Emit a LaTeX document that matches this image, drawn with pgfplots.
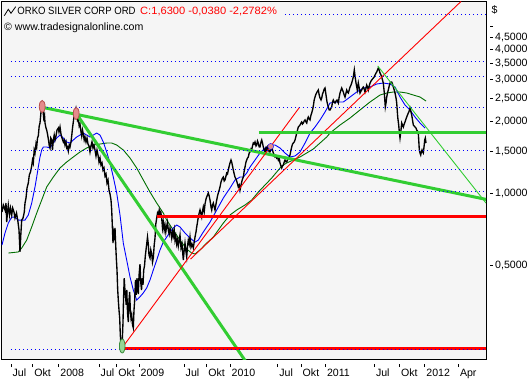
\documentclass[border=0pt]{standalone}
\usepackage{pgfplots}
\pgfplotsset{compat=1.18}
\usepackage{fontspec}
\setmainfont{Liberation Sans}
\definecolor{plotbg}{RGB}{245,245,245}
\definecolor{lgreen}{RGB}{50,205,50}
\definecolor{dgreen}{RGB}{0,110,0}
\definecolor{pinkfill}{RGB}{228,140,140}
\definecolor{pinkdraw}{RGB}{185,80,80}
\definecolor{greenfill}{RGB}{150,215,150}
\definecolor{greendraw}{RGB}{60,140,60}
\pgfdeclareplotmark{vellA}{\pgfpathellipse{\pgfpointorigin}{\pgfqpoint{\pgfplotmarksize}{0pt}}{\pgfqpoint{0pt}{2.1\pgfplotmarksize}}\pgfusepathqfillstroke}
\pgfdeclareplotmark{vellG}{\pgfpathellipse{\pgfpointorigin}{\pgfqpoint{\pgfplotmarksize}{0pt}}{\pgfqpoint{0pt}{2.5\pgfplotmarksize}}\pgfusepathqfillstroke}
\begin{document}
\begin{tikzpicture}[x=1bp,y=1bp,font=\fontsize{10.6bp}{12.7bp}\selectfont]
\path[use as bounding box] (0,0) rectangle (531,380);
\begin{axis}[
  at={(1.5bp,21bp)}, anchor=south west,
  width=484.5bp, height=357.5bp, scale only axis,
  xmin=1.5, xmax=486,
  ymode=log, ymin=0.2038, ymax=6.359,
  axis background/.style={fill=plotbg},
  axis line style={black, line width=1bp},
  xtick={11,32.7,58.7,99,116.7,139,184,206.7,230,277.7,301,325.3,374.3,399.3,424.7,458.3},
  xticklabels={Jul,Okt,2008,Jul,Okt,2009,Jul,Okt,2010,Jul,Okt,2011,Jul,Okt,2012,Apr},
  ytick={0.5,1,1.5,2,2.5,3,3.5,4,4.5,5},
  yticklabels={0{,}5000,1{,}0000,1{,}5000,2{,}0000,2{,}5000,3{,}0000,3{,}5000,4{,}0000,4{,}5000,{}},
  yminorticks=false, xminorticks=false,
  ytick pos=right, xtick pos=bottom,
  tick align=outside,
  major tick length=3bp,
  tick style={black, line width=0.8bp},
  xtick style={yshift=-5bp},
  ytick style={xshift=4bp},
  xticklabel style={anchor=base west, inner sep=0pt, xshift=1.5bp, yshift=-14bp},
  yticklabel style={anchor=west, inner sep=0pt, xshift=6bp},
  clip=true,
]
% markers
\addplot[only marks, mark=vellA, mark size=2.9bp, mark options={fill=pinkfill, draw=pinkdraw, line width=0.8bp}] coordinates {(42.2,2.314) (76.2,2.163)};
\addplot[only marks, mark=*, mark size=3bp, mark options={fill=pinkfill, draw=blue}] coordinates {(270.7,1.576)};
\addplot[only marks, mark=vellG, mark size=2.8bp, mark options={fill=greenfill, draw=greendraw, line width=0.8bp}] coordinates {(122.2,0.231)};
% long moving average
\addplot[dgreen, line width=0.9bp] coordinates {
(8.3,0.565)(18.3,0.571)(21.7,0.593)(26.7,0.640)(31.7,0.726)(36.7,0.830)(41.7,0.941)(46.7,1.067)(53.3,1.174)(60,1.281)
(66.7,1.357)(73.3,1.424)(80,1.494)(86.7,1.553)(93.3,1.598)(100,1.613)(106.7,1.629)(111.7,1.629)(116.7,1.598)(123.3,1.523)
(130,1.410)(136.7,1.281)(143.3,1.141)(150,1.016)(156.7,0.914)(163.3,0.830)(166.7,0.776)(173.3,0.705)(180,0.640)(186.7,0.587)
(191.7,0.565)(195,0.560)(200,0.582)(206.7,0.622)(213.3,0.659)(223.3,0.754)(230,0.815)(236.7,0.855)(245,0.897)(251.7,0.941)
(258.3,1.016)(265,1.087)(271.7,1.163)(276.7,1.232)(281.7,1.306)(286.7,1.344)(293.3,1.383)(300,1.424)(306.7,1.480)(313.3,1.538)
(320,1.629)(326.7,1.726)(330,1.793)(340,1.937)(350,2.072)(360,2.238)(370,2.417)(380,2.585)(386.7,2.636)(393.3,2.661)
(400,2.661)(406.7,2.636)(413.3,2.585)(420,2.536)(426,2.440)};
% short moving average
\addplot[blue, line width=0.9bp] coordinates {
(2,0.610)(5,0.685)(8.3,0.754)(11.7,0.799)(15,0.799)(18.3,0.776)(21.7,0.776)(25,0.776)(28.3,0.815)(31.7,0.914)
(35,1.067)(36.7,1.174)(38.3,1.293)(40,1.424)(41.7,1.523)(43.3,1.568)(46.7,1.568)(50,1.553)(53.3,1.629)(56.7,1.709)
(60,1.759)(63.3,1.709)(66.7,1.645)(70,1.629)(73.3,1.677)(76.7,1.726)(80,1.759)(83.3,1.793)(86.7,1.759)(90,1.726)
(93.3,1.759)(96.7,1.793)(100,1.759)(103.3,1.645)(106.7,1.494)(110,1.344)(113.3,1.174)(116.7,1.007)(120,0.815)(123.3,0.622)
(126.7,0.528)(130,0.449)(133.3,0.396)(136.7,0.3595)(140,0.371)(143.3,0.385)(146.7,0.404)(150,0.436)(153.3,0.480)(156.7,0.528)
(160,0.582)(163.3,0.628)(166.7,0.659)(170,0.692)(173.3,0.719)(176.7,0.740)(180,0.726)(185,0.685)(190,0.653)(195,0.628)
(198.3,0.640)(203.3,0.692)(210,0.761)(216.7,0.855)(223.3,0.959)(230,1.056)(235,1.141)(240,1.174)(243.3,1.174)(246.7,1.220)
(250,1.293)(255,1.383)(260,1.480)(265,1.553)(270,1.598)(275,1.598)(280,1.553)(285,1.480)(290,1.424)(295,1.438)
(300,1.494)(305,1.629)(310,1.793)(315,1.900)(320,2.033)(325,2.195)(330,2.394)(336.7,2.417)(343.3,2.417)(350,2.536)
(356.7,2.661)(363.3,2.766)(370,2.792)(376.7,2.874)(383.3,2.902)(390,2.874)(395,2.792)(400,2.536)(405,2.348)(410,2.238)
(415,2.092)(420,1.975)(425,1.882)};
% close
\addplot[black, line width=1.35bp] coordinates {
(2,0.838)(3.3,0.897)(5,0.855)(6,0.914)(6.7,0.761)(7.5,0.838)(8.3,0.897)(9.5,0.815)(10.5,0.871)(11.7,0.815)
(12.7,0.871)(14,0.838)(15,0.791)(16.5,0.830)(18,0.761)(19,0.705)(20,0.571)(20.8,0.672)(21.7,0.776)(23,0.791)
(24.3,0.838)(25,0.914)(26,0.959)(27,1.056)(28.3,1.108)(29.3,1.197)(30.5,1.232)(31.7,1.306)(32.5,1.383)(33.3,1.344)
(34.2,1.523)(35,1.480)(36,1.613)(36.7,1.568)(37.5,1.709)(38.3,1.742)(39.2,1.919)(40,1.975)(41,2.195)(41.7,2.325)
(42.3,2.440)(43,2.238)(43.7,2.072)(44.5,2.133)(45,1.975)(46,1.882)(46.7,1.846)(47.5,1.776)(48.5,1.677)(49.3,1.583)
(50,1.553)(50.8,1.709)(51.7,1.677)(52.5,1.523)(53.3,1.677)(54.2,1.759)(55,1.677)(56,1.742)(57,1.846)(58.3,1.882)
(59,1.811)(60,1.900)(61,1.776)(62,1.709)(63.3,1.645)(64.2,1.677)(65,1.598)(66,1.645)(66.7,1.553)(67.5,1.568)
(68.3,1.508)(69.2,1.598)(70,1.568)(71,1.645)(71.7,1.742)(72.5,1.882)(73.3,1.994)(74.2,2.133)(75,2.195)(76,2.281)
(76.8,2.195)(77.5,2.033)(78.3,2.072)(79.2,1.919)(80,1.956)(81,1.811)(81.7,1.742)(82.5,1.846)(83.3,1.776)(84.2,1.677)
(85,1.726)(86,1.645)(87,1.709)(88,1.613)(89,1.583)(90,1.494)(91,1.583)(92,1.645)(93,1.553)(94,1.598)
(95,1.523)(96,1.438)(97,1.523)(98,1.452)(99,1.357)(100,1.410)(101,1.318)(102,1.344)(103,1.256)(104,1.281)
(105,1.186)(106,1.209)(107,1.108)(108,1.141)(109,1.036)(110,0.997)(111,0.941)(111.7,0.855)(112.3,0.740)(113,0.622)
(113.5,0.692)(114.2,0.665)(115,0.719)(115.7,0.610)(116.3,0.539)(117,0.480)(117.7,0.396)(118.3,0.3595)(119,0.3265)(119.7,0.302)
(120.3,0.257)(121,0.233)(121.7,0.218)(122.3,0.2446)(123,0.291)(123.5,0.3595)(124.2,0.444)(124.8,0.404)(125.5,0.374)(126.2,0.343)
(126.8,0.396)(127.5,0.320)(128.3,0.291)(129,0.3595)(129.7,0.389)(130.3,0.3265)(131,0.302)(131.7,0.311)(132.5,0.283)(133.3,0.275)
(134,0.3265)(134.7,0.3595)(135.5,0.436)(136.2,0.378)(137,0.444)(137.7,0.396)(138.3,0.381)(139,0.453)(140,0.508)(140.7,0.428)
(141.5,0.396)(142.2,0.444)(143,0.416)(143.7,0.480)(144.5,0.499)(145.3,0.549)(146,0.582)(146.7,0.616)(147.5,0.659)(148.3,0.616)
(149,0.554)(150,0.539)(150.8,0.582)(151.7,0.560)(152.5,0.518)(153.3,0.539)(154.2,0.610)(155,0.653)(155.8,0.747)(156.7,0.791)
(157.5,0.830)(158.3,0.815)(159.2,0.855)(160,0.822)(160.8,0.838)(161.7,0.791)(162.5,0.719)(163.3,0.761)(164.2,0.705)(165,0.740)
(165.8,0.692)(166.7,0.733)(167.5,0.761)(168.3,0.705)(169.2,0.678)(170,0.719)(170.8,0.692)(171.7,0.653)(172.5,0.692)(173.3,0.665)
(174.2,0.705)(175,0.640)(175.8,0.665)(176.7,0.616)(177.5,0.640)(178.3,0.604)(179.2,0.640)
(180,0.672)(181,0.593)(182,0.616)(183.3,0.528)(184.2,0.582)(185,0.622)(186,0.571)(186.7,0.544)(187.5,0.604)(188.3,0.640)
(189.2,0.616)(190,0.659)(191,0.598)(192,0.616)(193.3,0.593)(194.2,0.628)(195,0.659)(196,0.692)(196.7,0.726)(197.5,0.761)
(198.3,0.799)(199.2,0.830)(200,0.855)(201,0.822)(201.7,0.799)(202.5,0.847)(203.3,0.880)(204.2,0.838)(205,0.906)(206,0.950)
(206.7,0.969)(207.5,0.988)(208.3,1.007)(209.2,0.978)(210,0.941)(211,0.880)(211.7,0.855)(212.5,0.897)(213.3,0.914)(214.2,0.880)
(215,0.855)(216,0.906)(216.7,0.941)(217.5,0.978)(218.3,1.007)(219.2,1.036)(220,1.067)(221,1.119)(221.7,1.141)(222.5,1.163)
(223.3,1.174)(224.2,1.130)(225,1.141)(226,1.186)(226.7,1.220)(227.5,1.209)(228.3,1.256)(229.2,1.306)(230,1.344)(231,1.383)
(231.7,1.357)(232.5,1.306)(233.3,1.256)(234.2,1.209)(235,1.174)(236,1.152)(236.7,1.130)(237.5,1.098)(238.3,1.067)(239.2,1.087)
(240,1.036)(241,1.087)(241.7,1.119)(242.5,1.152)(243.3,1.174)(244.2,1.244)(245,1.293)(246,1.357)(246.7,1.383)(247.5,1.410)
(248.3,1.424)(249.2,1.480)(250,1.494)(251,1.538)(251.7,1.523)(252.5,1.583)(253.3,1.629)(254.2,1.613)(255,1.645)(256,1.583)
(256.7,1.598)(257.5,1.661)(258.3,1.629)(259.2,1.568)(260,1.568)(261,1.645)(261.7,1.677)(262.5,1.629)(263.3,1.568)(264.2,1.523)
(265,1.494)(266,1.553)(266.7,1.523)(267.5,1.568)(268.3,1.538)(269.2,1.494)(270,1.494)(271,1.553)(271.7,1.568)(272.5,1.523)
(273.3,1.480)(274.2,1.452)(275,1.424)(276,1.438)(276.7,1.410)(277.5,1.424)(278.3,1.383)(279.2,1.410)(280,1.344)(281,1.306)
(281.7,1.281)(282.5,1.306)(283.3,1.318)(284.2,1.357)(285,1.383)(286,1.357)(286.7,1.357)(287.5,1.383)(288.3,1.410)(289.2,1.424)
(290,1.452)(291,1.523)(291.7,1.568)(292.5,1.613)(293.3,1.629)(294.2,1.645)(295,1.677)(296,1.742)(296.7,1.793)(297.5,1.846)
(298.3,1.900)(299.2,1.919)(300,1.937)(301,1.975)(301.7,1.994)(302.5,1.956)(303.3,1.975)(304.2,2.013)(305,2.033)(306,1.994)
(306.7,1.975)(307.5,2.052)(308.3,2.092)(309.2,2.052)(310,2.033)(311,2.133)(311.7,2.174)(312.5,2.238)(313.3,2.325)(314.2,2.464)
(315,2.536)(316,2.610)(317,2.661)(318.3,2.713)(319.2,2.585)(320,2.512)(321,2.464)(321.7,2.512)(322.5,2.610)(323.3,2.661)
(324.2,2.739)(325,2.766)(326,2.585)(327,2.417)(328.3,2.303)(329.2,2.238)(330,2.238)(331,2.281)(331.7,2.303)(332.5,2.417)
(333.3,2.464)(334.2,2.417)(335,2.394)(336,2.440)(337,2.464)(338.3,2.394)(339.2,2.536)(340,2.636)(341,2.713)(341.7,2.766)
(342.5,2.713)(343.3,2.661)(344.2,2.585)(345,2.536)(346,2.636)(346.7,2.713)(347.5,2.661)(348.3,2.636)(349.2,2.713)(350,2.792)
(351,2.847)(351.7,2.902)(352.5,2.987)(353.3,3.075)(354.3,3.289)(355,3.104)(356,2.902)(357.3,2.713)(358.3,2.902)(359.2,2.766)
(360,2.636)(361,2.687)(361.7,2.713)(362.5,2.766)(363.3,2.792)(364.2,2.739)(365,2.661)(366,2.766)(366.7,2.847)(367.5,2.792)
(368.3,2.713)(369.2,2.819)(370,2.902)(371,2.958)(371.7,2.987)(372.5,3.016)(373.3,3.045)(374.2,3.075)(375,3.134)(376,3.195)
(376.7,3.226)(377.5,3.289)(378.3,3.353)(379.2,3.289)(380,3.195)(381,3.134)(381.7,3.075)(382.5,2.987)(383.3,2.902)(384.3,2.636)
(385.3,2.303)(386,2.394)(386.7,2.536)(387.5,2.636)(388.3,2.713)(389.2,2.819)(390,2.902)(391,2.930)(391.7,2.930)(392.5,2.874)
(393.3,2.792)(394.2,2.713)(395,2.636)(396,2.512)(396.7,2.394)(397.7,2.092)(398.7,1.937)(399.3,1.811)(400,1.709)(401,1.846)
(401.7,1.975)(402.5,1.937)(403.3,1.900)(404.2,1.956)(405,1.994)(406,2.052)(406.7,2.092)(407.5,2.133)(408.3,2.174)(409.2,2.216)
(410,2.281)(411,2.195)(411.7,2.133)(412.5,2.033)(413.3,1.937)(414.2,1.919)(415,1.900)(416,1.882)(416.7,1.846)(417.5,1.828)
(418.3,1.793)(419.3,1.523)(420,1.480)(420.7,1.452)(421.3,1.494)(422,1.523)(422.7,1.494)(423.3,1.480)(424,1.568)(424.7,1.677)
(425.3,1.709)(426,1.629)};
% trend lines
\addplot[lgreen, line width=3bp] coordinates {(42.3,2.297) (486,0.947)};
\addplot[lgreen, line width=3bp] coordinates {(76.8,2.147) (248.2,0.1923)};
\addplot[red, line width=0.9bp] coordinates {(121.8,0.226) (299.5,2.297)};
\addplot[red, line width=0.9bp] coordinates {(190.5,0.533) (461,6.36)};
\addplot[red, line width=3bp] coordinates {(156.7,0.800) (486,0.800)};
\addplot[red, line width=3bp] coordinates {(122.5,0.226) (486,0.226)};
\addplot[lgreen, line width=3bp] coordinates {(258.9,1.811) (486,1.811)};
\addplot[lgreen, line width=0.9bp] coordinates {(377.7,3.419) (486,0.914)};
% dotted levels
\addplot[blue, line width=1bp, dash pattern=on 1.3bp off 2.7bp] coordinates {(285,5.62) (486,5.62)};
\addplot[blue, line width=1bp, dash pattern=on 1.3bp off 2.7bp] coordinates {(10.8,3.56) (486,3.56)};
\addplot[blue, line width=1bp, dash pattern=on 1.3bp off 2.7bp] coordinates {(10.8,3.095) (486,3.095)};
\addplot[blue, line width=1bp, dash pattern=on 1.3bp off 2.7bp] coordinates {(10.8,2.297) (486,2.297)};
\addplot[blue, line width=1bp, dash pattern=on 1.3bp off 2.7bp] coordinates {(10.8,1.523) (486,1.523)};
\addplot[blue, line width=1bp, dash pattern=on 1.3bp off 2.7bp] coordinates {(10.8,1.268) (486,1.268)};
\addplot[blue, line width=1bp, dash pattern=on 1.3bp off 2.7bp] coordinates {(10.8,1.026) (486,1.026)};
\addplot[blue, line width=1bp, dash pattern=on 1.3bp off 2.7bp] coordinates {(10.8,0.2243) (486,0.2243)};
\end{axis}
% header
\draw[black, line width=0.8bp] (4.3,364.3) -- (8.3,370.7) -- (11,366.7) -- (15.7,373.3);
\node[anchor=base west, inner sep=0pt] at (17.3,366) {\scalebox{0.9}[1]{ORKO SILVER CORP ORD}};
\node[anchor=base west, inner sep=0pt, text=red] at (140,366) {\scalebox{1.05}[1]{C:1,6300 -0,0380 -2,2782\%}};
\node[anchor=base west, inner sep=0pt] at (4,350) {\textcopyright{} www.tradesignalonline.com};
\node[anchor=base west, inner sep=0pt] at (491.5,367) {\$};
\end{tikzpicture}
\end{document}
